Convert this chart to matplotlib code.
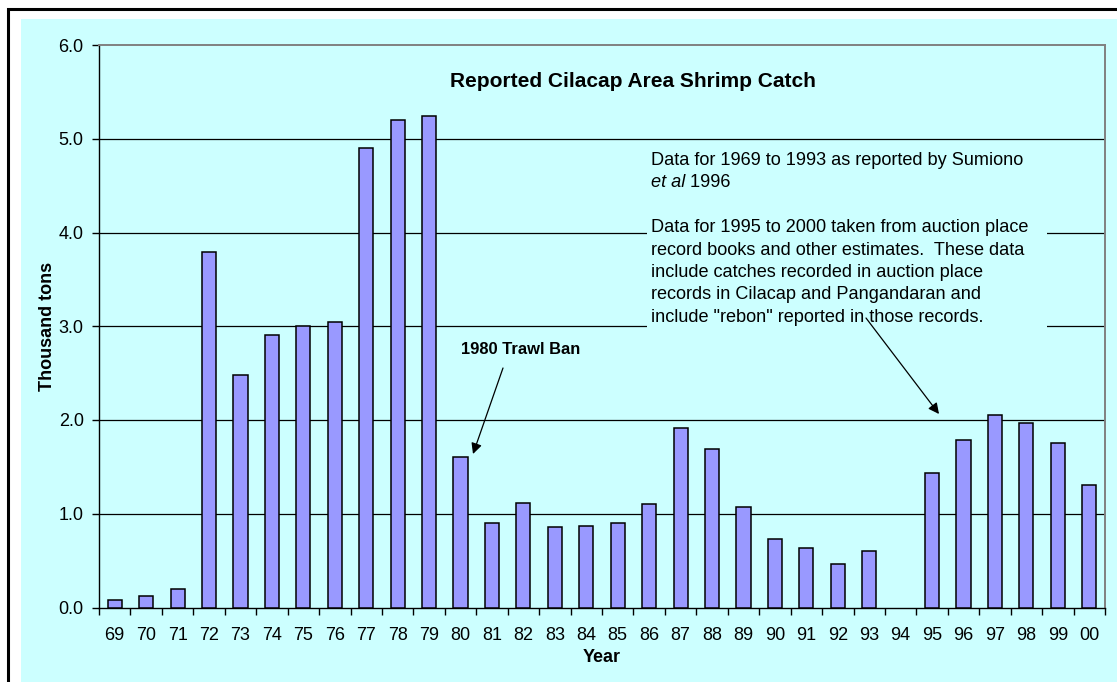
import numpy as np
import matplotlib
matplotlib.use("Agg")
import matplotlib.pyplot as plt
from matplotlib.patches import Rectangle
from matplotlib.text import Annotation

# ------------------------------------------------------------------
# Data (thousand tons)
# ------------------------------------------------------------------
years = ["69", "70", "71", "72", "73", "74", "75", "76", "77", "78", "79",
         "80", "81", "82", "83", "84", "85", "86", "87", "88", "89", "90",
         "91", "92", "93", "94", "95", "96", "97", "98", "99", "00"]
catch = [0.08, 0.12, 0.20, 3.79, 2.48, 2.91, 3.00, 3.05, 4.90, 5.20, 5.24,
         1.61, 0.90, 1.11, 0.86, 0.87, 0.90, 1.10, 1.91, 1.69, 1.07, 0.73,
         0.64, 0.46, 0.60, np.nan, 1.44, 1.79, 2.05, 1.97, 1.76, 1.31]
y_ticks = [0.0, 1.0, 2.0, 3.0, 4.0, 5.0, 6.0]

title = "Reported Cilacap Area Shrimp Catch"
note_lines = [
    "Data for 1995 to 2000 taken from auction place",
    "record books and other estimates.  These data",
    "include catches recorded in auction place",
    "records in Cilacap and Pangandaran and",
    "include \"rebon\" reported in those records.",
]

W, H = 1117, 682
BG = "#CCFFFF"
BAR = "#9999FF"
FONT = "Liberation Sans"


def fy(y):
    # pixel row (from top) -> figure fraction
    return 1 - y / H


def main():
    plt.rcParams.update({
        "font.family": FONT,
        "font.size": 13,
    })

    fig = plt.figure(figsize=(W / 100, H / 100), dpi=100, facecolor="white")

    # outer frame and cyan chart area
    fig.add_artist(Rectangle((21 / W, -0.1), 1.2, fy(19) + 0.1, transform=fig.transFigure,
                             facecolor=BG, edgecolor="none", zorder=0))
    fig.add_artist(Rectangle((7.5 / W, -0.1), 1.2, fy(8.5) + 0.1, transform=fig.transFigure,
                             facecolor="none", edgecolor="black", linewidth=2.2, zorder=1))

    ax = fig.add_axes([99 / W, fy(607.5), (1105 - 99) / W, (607.5 - 45) / H])
    ax.set_facecolor(BG)

    x = np.arange(len(years))
    ax.bar(x, catch, width=0.45, color=BAR, edgecolor="black", linewidth=1.1, zorder=3)

    ax.set_xlim(-0.5, len(years) - 0.5)
    ax.set_ylim(0, 6)
    ax.set_yticks(y_ticks)
    ax.set_yticklabels([f"{v:.1f}" for v in y_ticks])
    for v in y_ticks[1:-1]:
        ax.axhline(v, color="black", linewidth=0.9, zorder=1)

    ax.set_xticks(np.arange(len(years) + 1) - 0.5)
    ax.set_xticklabels([])
    ax.set_xticks(x, minor=True)
    ax.set_xticklabels(years, minor=True)
    ax.tick_params(axis="x", which="major", direction="out", length=5, width=1.0, color="black")
    ax.tick_params(axis="x", which="minor", length=0, pad=14, labelsize=13)
    ax.tick_params(axis="y", direction="out", length=5, width=1.0, pad=6, labelsize=13)

    for side in ("left", "bottom"):
        ax.spines[side].set_color("black")
        ax.spines[side].set_linewidth(1.0)
    for side in ("top", "right"):
        ax.spines[side].set_color("#808080")
        ax.spines[side].set_linewidth(1.4)

    # axis labels
    fig.text(48 / W, fy(326), "Thousand tons", rotation=90, ha="center", va="center",
             fontweight="bold", fontsize=13)
    fig.text(602 / W, fy(657), "Year", ha="center", va="center", fontweight="bold", fontsize=13)

    # title
    fig.text(633 / W, fy(87.3), title, ha="center", va="baseline", fontweight="bold", fontsize=15)

    # note box (covers gridlines)
    fig.add_artist(Rectangle((647 / W, fy(332)), (1047 - 647) / W, (332 - 146) / H,
                             transform=fig.transFigure, facecolor=BG, edgecolor="none", zorder=4))
    fig.text(651 / W, fy(165), "Data for 1969 to 1993 as reported by Sumiono",
             ha="left", va="baseline", fontsize=13.1, zorder=5)
    t2 = fig.text(651 / W, fy(187.3), "et al", style="italic",
                  ha="left", va="baseline", fontsize=13.1, zorder=5)
    fig.add_artist(Annotation(" 1996", xy=(1, 0), xycoords=t2, ha="left", va="bottom",
                              fontsize=13.1, annotation_clip=False, zorder=5))
    for i, line in enumerate(note_lines):
        fig.text(651 / W, fy(232.3 + 22.35 * i), line, ha="left", va="baseline",
                 fontsize=13.1, zorder=5)

    # trawl ban label and arrows
    fig.text(461 / W, fy(354), "1980 Trawl Ban", ha="left", va="baseline",
             fontweight="bold", fontsize=11.9)
    arrow = dict(arrowstyle="-|>", color="black", lw=0.9, mutation_scale=16,
                 shrinkA=0, shrinkB=0)
    fig.add_artist(Annotation("", xy=(473, H - 454), xycoords="figure pixels",
                              xytext=(503, H - 368), textcoords="figure pixels",
                              arrowprops=arrow, annotation_clip=False, zorder=6))
    fig.add_artist(Annotation("", xy=(939, H - 414), xycoords="figure pixels",
                              xytext=(866, H - 318), textcoords="figure pixels",
                              arrowprops=arrow, annotation_clip=False, zorder=6))

    fig.savefig("out.png", dpi=100, facecolor="white")
    plt.close(fig)


if __name__ == "__main__":
    main()
